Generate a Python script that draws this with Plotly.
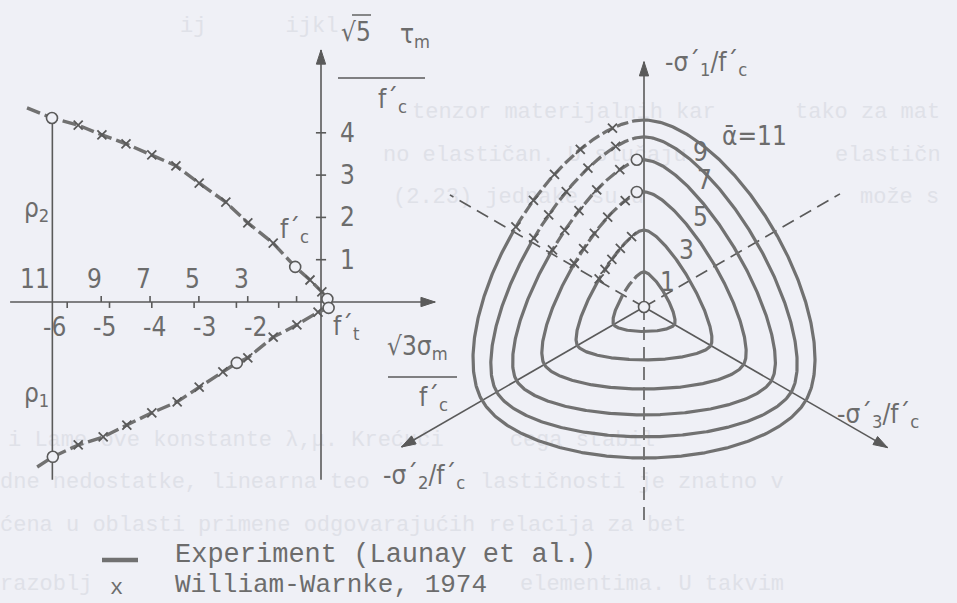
import numpy as np
import plotly.graph_objects as go

W, H = 957, 603
PX_PER_UNIT = 42.3          # one stress unit on the page
ORIGIN_PX = (321, 302)      # crossing of the meridian axes

PAPER = "#eff0f6"
INK = "#5a5a5a"
CURVE = "#717171"
TEXT = "#6c6c6c"
FAINT = "#dfe1e8"
NUM_FONT = "Liberation Sans Narrow, DejaVu Sans Condensed, Liberation Sans, DejaVu Sans"
MONO_FONT = "Liberation Mono, DejaVu Sans Mono, monospace"
BACK_SIZE = 22

# ---------------- meridians (left) ----------------
# x: sqrt(3)*sigma_m/f'c,  y: +/- sqrt(5)*tau_m/f'c
comp_x = [-6.95, -6.36, -5.74, -5.18, -4.61, -4.00, -3.43, -2.88, -2.25, -1.73, -1.13, -0.61, -0.26, 0.02, 0.15]
comp_y = [4.59, 4.35, 4.18, 3.95, 3.74, 3.48, 3.22, 2.81, 2.36, 1.87, 1.39, 0.83, 0.52, 0.24, 0.07]
comp_model_idx = [2, 3, 4, 5, 6, 7, 8, 9, 10, 12, 13]
comp_test_idx = [1, 11, 14]

tens_x = [-6.71, -6.34, -5.74, -5.15, -4.59, -4.00, -3.40, -2.88, -2.32, -1.99, -1.73, -1.13, -0.57, -0.07, 0.18]
tens_y = [-3.90, -3.66, -3.38, -3.19, -2.91, -2.62, -2.36, -2.01, -1.65, -1.44, -1.32, -0.83, -0.54, -0.24, -0.14]
tens_model_idx = [2, 3, 4, 5, 6, 7, 8, 10, 11, 12, 13]
tens_test_idx = [1, 9, 14]

tau_ticks = [1, 2, 3, 4]
sigma_ticks = [-1, -2, -3, -4, -5, -6]
alpha_ticks = [1, 3, 5, 7, 9]
alpha_tick_labels = [11, 9, 7, 5, 3]

# ---------------- deviatoric sections (right) ----------------
alpha_levels = [1, 3, 5, 7, 9, 11]
rho_c = [0.83, 1.82, 2.72, 3.48, 4.02, 4.42]   # compressive meridian radius
rho_t = [0.58, 1.25, 1.94, 2.55, 3.07, 3.57]   # tensile meridian radius
alpha_circle_levels = [5, 7]
section_labels = ["9", "7", "5", "3", "1"]

DEV_CENTER = ((644 - ORIGIN_PX[0]) / PX_PER_UNIT, (ORIGIN_PX[1] - 307) / PX_PER_UNIT)

x_range = [-ORIGIN_PX[0] / PX_PER_UNIT, (W - ORIGIN_PX[0]) / PX_PER_UNIT]
y_range = [-(H - ORIGIN_PX[1]) / PX_PER_UNIT, ORIGIN_PX[1] / PX_PER_UNIT]


def to_data(px, py):
    return (px - ORIGIN_PX[0]) / PX_PER_UNIT, (ORIGIN_PX[1] - py) / PX_PER_UNIT


def ww_radius(rc, rt, theta):
    """Willam-Warnke elliptic trace between tensile (theta=0) and compressive (60 deg) meridians."""
    c = np.cos(theta)
    d = rc ** 2 - rt ** 2
    num = 2 * rc * d * c + rc * (2 * rt - rc) * np.sqrt(4 * d * c ** 2 + 5 * rt ** 2 - 4 * rt * rc)
    den = 4 * d * c ** 2 + (rc - 2 * rt) ** 2
    return num / den


def section_xy(rc, rt, phi_deg):
    phi_deg = np.asarray(phi_deg, dtype=float)
    dd = np.mod(phi_deg - 30.0, 120.0)
    theta = np.radians(np.minimum(dd, 120.0 - dd))
    r = ww_radius(rc, rt, theta)
    ph = np.radians(phi_deg)
    return DEV_CENTER[0] + r * np.cos(ph), DEV_CENTER[1] + r * np.sin(ph)


fig = go.Figure()

# faint show-through of the facing page, kept clear of the figure's own lettering
backdrop_lines = [
    (180, 26, "ij      ijkl"),
    (412, 112, "tenzor materijalnih kar"),
    (795, 112, "tako za mat"),
    (383, 155, "no elastičan. U slučaju"),
    (835, 155, "elastične"),
    (393, 197, "(2.23) jednake su u"),
    (860, 197, "može se"),
    (8, 440, "i Lame-ove konstante λ,μ. Krećući     ćega stabil"),
    (0, 482, "dne nedostatke, linearna teo"),
    (480, 482, "lastičnosti je znatno v"),
    (0, 525, "ćena u oblasti primene odgovarajućih relacija za bet"),
    (0, 584, "razoblj"),
    (520, 584, "elementima. U takvim"),
]
char_w = 0.6 * BACK_SIZE
for px, py, txt in backdrop_lines:
    max_chars = int((W - px) / char_w) - 1
    bx, by = to_data(px, py)
    fig.add_trace(go.Scatter(x=[bx], y=[by], mode="text", text=[txt[:max_chars]],
                             textposition="middle right", hoverinfo="skip",
                             textfont=dict(family=MONO_FONT, size=BACK_SIZE, color=FAINT)))

# ---- left: axis ticks ----
tx, ty = [], []
for v in tau_ticks:
    tx += [-0.12, 0.12, None]
    ty += [v, v, None]
for v in sigma_ticks:
    tx += [v, v, None]
    ty += [0, -0.14, None]
for a in alpha_ticks:
    xa = -a / np.sqrt(3)
    tx += [xa, xa, None]
    ty += [0, 0.14, None]
fig.add_trace(go.Scatter(x=tx, y=ty, mode="lines", line=dict(color=INK, width=1.6), hoverinfo="skip"))

# vertical line at alpha = 11 joining the two meridians
x11 = -max(alpha_tick_labels) / np.sqrt(3)
fig.add_trace(go.Scatter(x=[x11, x11], y=[comp_y[1], -4.2], mode="lines",
                         line=dict(color=INK, width=1.6), hoverinfo="skip"))

X_MARK = dict(symbol="x-thin-open", size=9, color=INK, line=dict(color=INK, width=1.8))
O_MARK = dict(symbol="circle", size=11, color=PAPER, line=dict(color=INK, width=1.6))

# ---- arrows: shafts + heads ----
arrows = [
    ((-7.35, 0.0), (2.70, 0.0), 90),
    ((0.0, -4.2), (0.0, 5.96), 0),
]
for ang, length in [(90, 5.8), (210, 6.62), (330, 6.65)]:
    a = np.radians(ang)
    tip = (DEV_CENTER[0] + length * np.cos(a), DEV_CENTER[1] + length * np.sin(a))
    arrows.append((DEV_CENTER, tip, (90 - ang) % 360))

shaft_x, shaft_y, head_x, head_y, head_ang = [], [], [], [], []
for (x0, y0), (x1, y1), hang in arrows:
    shaft_x += [x0, x1, None]
    shaft_y += [y0, y1, None]
    head_x.append(x1)
    head_y.append(y1)
    head_ang.append(hang)
fig.add_trace(go.Scatter(x=shaft_x, y=shaft_y, mode="lines", line=dict(color=INK, width=1.6), hoverinfo="skip"))

# ---- left: meridians ----
for mx, my, midx, tidx in [(comp_x, comp_y, comp_model_idx, comp_test_idx),
                           (tens_x, tens_y, tens_model_idx, tens_test_idx)]:
    fig.add_trace(go.Scatter(x=mx, y=my, mode="lines",
                             line=dict(color=CURVE, width=3.4, dash="14px,5px"), hoverinfo="skip"))
    fig.add_trace(go.Scatter(x=[mx[i] for i in midx], y=[my[i] for i in midx], mode="markers",
                             marker=X_MARK, hoverinfo="skip"))
    fig.add_trace(go.Scatter(x=[mx[i] for i in tidx], y=[my[i] for i in tidx], mode="markers",
                             marker=O_MARK, hoverinfo="skip"))

# ---- right: deviatoric axes (dashed = tensile directions) ----
for ang, length in [(270, 5.2), (150, 5.3), (30, 5.35)]:
    a = np.radians(ang)
    fig.add_trace(go.Scatter(x=[DEV_CENTER[0], DEV_CENTER[0] + length * np.cos(a)],
                             y=[DEV_CENTER[1], DEV_CENTER[1] + length * np.sin(a)],
                             mode="lines", line=dict(color=INK, width=1.6, dash="13px,7px"), hoverinfo="skip"))

# ---- right: sections ----
phi_solid = np.arange(150, 450.01, 0.5)
phi_dash = np.arange(90, 150.01, 0.5)
marker_angles = [100, 112, 124, 136, 148]
for a_lvl, rc, rt in zip(alpha_levels, rho_c, rho_t):
    sx, sy = section_xy(rc, rt, phi_solid)
    fig.add_trace(go.Scatter(x=sx, y=sy, mode="lines", line=dict(color=CURVE, width=3.2), hoverinfo="skip"))
    dx, dy = section_xy(rc, rt, phi_dash)
    fig.add_trace(go.Scatter(x=dx, y=dy, mode="lines",
                             line=dict(color=CURVE, width=3.2, dash="12px,4px"), hoverinfo="skip"))
    if a_lvl >= 3:
        mxs, mys = section_xy(rc, rt, marker_angles)
        fig.add_trace(go.Scatter(x=mxs, y=mys, mode="markers", marker=X_MARK, hoverinfo="skip"))

cx_list, cy_list = [DEV_CENTER[0]], [DEV_CENTER[1]]
for a_lvl, rc in zip(alpha_levels, rho_c):
    if a_lvl in alpha_circle_levels:
        cx_list.append(DEV_CENTER[0] - 0.17)
        cy_list.append(DEV_CENTER[1] + rc)
fig.add_trace(go.Scatter(x=cx_list, y=cy_list, mode="markers", marker=O_MARK, hoverinfo="skip"))

# arrow heads on top
fig.add_trace(go.Scatter(x=head_x, y=head_y, mode="markers", hoverinfo="skip",
                         marker=dict(symbol="arrow", size=15, angle=head_ang, color=INK,
                                     line=dict(color=INK, width=1))))

annotations = []


def label(text, px, py, size=26, family=NUM_FONT, xanchor="center"):
    annotations.append(dict(x=px / W, y=1 - py / H, xref="paper", yref="paper", text=text,
                            showarrow=False, xanchor=xanchor, yanchor="middle",
                            font=dict(family=family, size=size, color=TEXT)))


def data_label(text, x, y, size=26):
    annotations.append(dict(x=x, y=y, xref="x", yref="y", text=text, showarrow=False,
                            xanchor="center", yanchor="middle",
                            font=dict(family=NUM_FONT, size=size, color=TEXT)))


# tick labels
for v in tau_ticks:
    data_label(str(v), 0.62, v)
for v in sigma_ticks[1:]:
    data_label(str(v), 0.816 + 1.188 * v, -0.59)
for a in alpha_tick_labels:
    shift = -0.4 if a == max(alpha_tick_labels) else -0.15
    data_label(str(a), -a / np.sqrt(3) + shift, 0.54)

# ordinate title
label("√5", 356, 32)
label("τ<sub>m</sub>", 398, 36, xanchor="left")
label("f´<sub>c</sub>", 376, 100, xanchor="left")
# abscissa title
label("√3σ<sub>m</sub>", 385, 347, xanchor="left")
label("f´<sub>c</sub>", 417, 398, xanchor="left")

# meridian labels
label("ρ<sub>2</sub>", 22, 209, xanchor="left")
label("ρ<sub>1</sub>", 22, 394, xanchor="left")
label("f´<sub>c</sub>", 278, 231, xanchor="left")
label("f´<sub>t</sub>", 331, 327, xanchor="left")

# deviatoric labels
label("-σ´<sub>1</sub>/f´<sub>c</sub>", 663, 64, xanchor="left")
label("ᾱ=11", 754, 136)
for txt, (px, py) in zip(section_labels,
                         [(700, 152), (704, 180), (700, 217), (686, 250), (667, 282)]):
    label(txt, px, py)
label("-σ´<sub>3</sub>/f´<sub>c</sub>", 835, 415, xanchor="left")
label("-σ´<sub>2</sub>/f´<sub>c</sub>", 381, 476, xanchor="left")

# legend
label("Experiment (Launay et al.)", 173, 555, size=27, family=MONO_FONT, xanchor="left")
label("William-Warnke, 1974", 173, 585, size=26, family=MONO_FONT, xanchor="left")
label("x", 116, 588, size=22, family=MONO_FONT)

shapes = [
    # fraction bars of the axis titles and the radical's overbar
    dict(type="line", xref="paper", yref="paper", x0=338 / W, x1=425 / W, y0=1 - 78 / H, y1=1 - 78 / H,
         line=dict(color=INK, width=1.6)),
    dict(type="line", xref="paper", yref="paper", x0=352 / W, x1=371 / W, y0=1 - 15 / H, y1=1 - 15 / H,
         line=dict(color=INK, width=1.4)),
    dict(type="line", xref="paper", yref="paper", x0=388 / W, x1=457 / W, y0=1 - 377 / H, y1=1 - 377 / H,
         line=dict(color=INK, width=1.6)),
    # legend swatch for the experimental curve
    dict(type="line", xref="paper", yref="paper", x0=102 / W, x1=138 / W, y0=1 - 560 / H, y1=1 - 560 / H,
         line=dict(color=CURVE, width=4.5)),
]

fig.update_layout(
    width=W, height=H,
    margin=dict(l=0, r=0, t=0, b=0, pad=0),
    paper_bgcolor=PAPER, plot_bgcolor=PAPER,
    showlegend=False,
    xaxis=dict(range=x_range, visible=False, fixedrange=True),
    yaxis=dict(range=y_range, visible=False, fixedrange=True),
    annotations=annotations,
    shapes=shapes,
)

fig.write_html("out.html")
